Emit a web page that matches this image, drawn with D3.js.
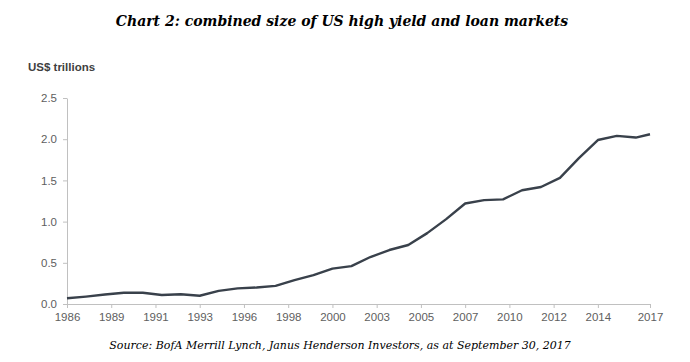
<!DOCTYPE html>
<html>
<head>
<meta charset="utf-8">
<script src="https://cdnjs.cloudflare.com/ajax/libs/d3/7.8.5/d3.min.js"></script>
<style>
  body { margin: 0; background: #fff; }
  .tick text { fill: #606060; font-family: "Liberation Sans", Arial, sans-serif; font-size: 11.5px; }
  .domain, .tick line { stroke: #c0c0c0; }
</style>
</head>
<body>
<div class="container"></div>
<script>
var w = 690;
var h = 362;

// year-end values 1986-2016, last point is Sept 2017
var periods = [1986, 1987, 1988, 1989, 1990, 1991, 1992, 1993, 1994, 1995, 1996,
  1997, 1998, 1999, 2000, 2001, 2002, 2003, 2004, 2005, 2006, 2007, 2008, 2009,
  2010, 2011, 2012, 2013, 2014, 2015, 2016, 2016.75];
var marketSize = [0.07, 0.09, 0.115, 0.137, 0.137, 0.11, 0.118, 0.10, 0.16, 0.19, 0.20,
  0.22, 0.29, 0.35, 0.43, 0.46, 0.57, 0.655, 0.716, 0.86, 1.03, 1.22, 1.26, 1.27,
  1.38, 1.42, 1.53, 1.77, 1.99, 2.04, 2.02, 2.06];

var xTickLabels = ["1986", "1989", "1991", "1993", "1996", "1998", "2000", "2003",
  "2005", "2007", "2010", "2012", "2014", "2017"];
var xTickPositions = [1986, 1988.333, 1990.667, 1993, 1995.333, 1997.667, 2000,
  2002.333, 2004.667, 2007, 2009.333, 2011.667, 2014, 2016.75];
var yTicks = [0, 0.5, 1.0, 1.5, 2.0, 2.5];

var data = periods.map((p, i) => [p, marketSize[i]]);

var canvas = d3
  .select(".container")
  .append("svg")
  .attr("width", w)
  .attr("height", h);

var xScale = d3.scaleLinear().domain([1986, 2016.75]).range([67, 650]);
var yScale = d3.scaleLinear().domain([0, 2.5]).range([304, 98]);

// title
canvas
  .append("text")
  .attr("x", 342)
  .attr("y", 26)
  .attr("text-anchor", "middle")
  .style("font-family", "'DejaVu Serif', Georgia, serif")
  .style("font-weight", "bold")
  .style("font-style", "italic")
  .style("font-size", "14px")
  .style("fill", "#000")
  .text("Chart 2: combined size of US high yield and loan markets");

// unit label
canvas
  .append("text")
  .attr("x", 28)
  .attr("y", 71)
  .style("font-family", "'Liberation Sans', Arial, sans-serif")
  .style("font-weight", "bold")
  .style("font-size", "11.5px")
  .style("fill", "#404040")
  .text("US$ trillions");

canvas
  .append("g")
  .attr("transform", "translate(67,0)")
  .call(d3.axisLeft(yScale).tickValues(yTicks).tickFormat(d3.format(".1f")).tickSize(4).tickSizeOuter(0).tickPadding(6));

canvas
  .append("g")
  .attr("transform", "translate(0,304)")
  .call(d3.axisBottom(xScale)
    .tickValues(xTickPositions)
    .tickFormat((d, i) => xTickLabels[i])
    .tickSize(4)
    .tickSizeOuter(0)
    .tickPadding(5));

canvas
  .append("path")
  .datum(data)
  .attr("fill", "none")
  .attr("stroke", "#39414b")
  .attr("stroke-width", 2.4)
  .attr("stroke-linejoin", "round")
  .attr("d", d3.line().x(d => xScale(d[0])).y(d => yScale(d[1])));

// source
canvas
  .append("text")
  .attr("x", 340)
  .attr("y", 349)
  .attr("text-anchor", "middle")
  .style("font-family", "'DejaVu Serif', Georgia, serif")
  .style("font-style", "italic")
  .style("font-size", "11px")
  .style("fill", "#000")
  .text("Source: BofA Merrill Lynch, Janus Henderson Investors, as at September 30, 2017");
</script>
</body>
</html>
